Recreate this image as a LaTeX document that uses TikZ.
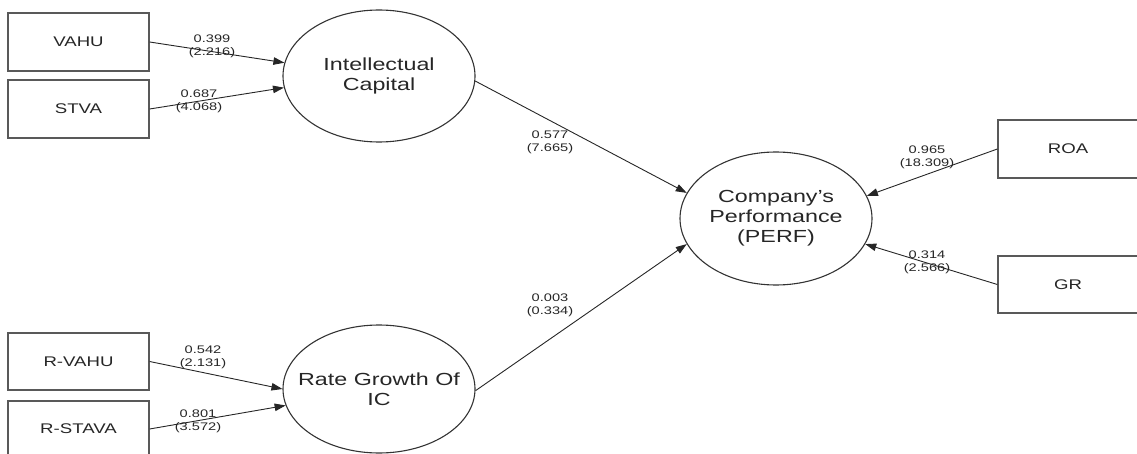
\documentclass[tikz,border=0pt]{standalone}
\usepackage{fontspec}
\setmainfont{Liberation Sans}[FakeStretch=1.33]
\usetikzlibrary{shapes.geometric,arrows.meta}
% a line of text that does not widen its node
\newcommand{\flatline}[1]{\makebox[0pt]{#1}}
\tikzset{
  indicator/.style={draw=black!65, line width=1.3pt, rectangle, inner sep=0pt,
    minimum width=141pt, font=\fontsize{14}{16}\selectfont, text=black!85},
  construct/.style={draw=black!80, line width=1.1pt, ellipse, inner sep=0pt,
    minimum width=192pt, align=center, font=\fontsize{17.5}{20}\selectfont, text=black!85},
  link/.style={draw=black!85, line width=0.9pt, -{Triangle[length=11pt,width=7.5pt]}},
  coef/.style={align=center, inner sep=0pt, font=\fontsize{11}{13}\selectfont, text=black!85}
}
\begin{document}
\begin{tikzpicture}[x=1pt,y=-1pt]
  \useasboundingbox (0,0) rectangle (1137,454);
  \clip (0,0) rectangle (1137,454);

  % measured indicators
  \node[indicator, minimum height=58pt] (vahu)   at (78.5,42)   {VAHU};
  \node[indicator, minimum height=58pt] (stva)   at (78.5,109)  {STVA};
  \node[indicator, minimum height=57pt] (rvahu)  at (78.5,361.5){R-VAHU};
  \node[indicator, minimum height=56pt] (rstava) at (78.5,429)  {R-STAVA};
  \node[indicator, minimum width=140pt, minimum height=58pt] (roa) at (1068,149)   {ROA};
  \node[indicator, minimum width=140pt, minimum height=57pt] (gr)  at (1068,284.5) {GR};

  % latent constructs
  \node[construct, minimum height=132pt] (ic)   at (379,76)
    {\flatline{Intellectual}\\\flatline{Capital}};
  \node[construct, minimum height=128pt] (rg)   at (379,389)
    {\flatline{Rate Growth Of}\\\flatline{IC}};
  \node[construct, minimum height=133pt] (perf) at (776,218.5)
    {\flatline{Company's}\\\flatline{Performance}\\\flatline{(PERF)}};

  % paths
  \draw[link] (vahu.east)   -- (ic.172.3);
  \draw[link] (stva.east)   -- (ic.187.1);
  \draw[link] (rvahu.east)  -- (rg.180.6);
  \draw[link] (rstava.east) -- (rg.190);
  \draw[link] (ic.357.6)    -- (perf.164.3);
  \draw[link] (rg.359.4)    -- (perf.196.2);
  \draw[link] (roa.west)    -- (perf.14.8);
  \draw[link] (gr.west)     -- (perf.344.6);

  % coefficients (t-values)
  \node[coef] (c1) at (212,46.5) {0.399\\(2.216)};
  \node[coef] (c2) at (199,101.5) {0.687\\(4.068)};
  \node[coef] (c3) at (203,357.5) {0.542\\(2.131)};
  \node[coef] (c4) at (198,421)   {0.801\\(3.572)};
  \node[coef] (c5) at (550,142.5) {0.577\\(7.665)};
  \node[coef] (c6) at (550,305)   {0.003\\(0.334)};
  \node[coef] (c7) at (927,157.5) {0.965\\(18.309)};
  \node[coef] (c8) at (927,262)   {0.314\\(2.566)};
\end{tikzpicture}
\end{document}
